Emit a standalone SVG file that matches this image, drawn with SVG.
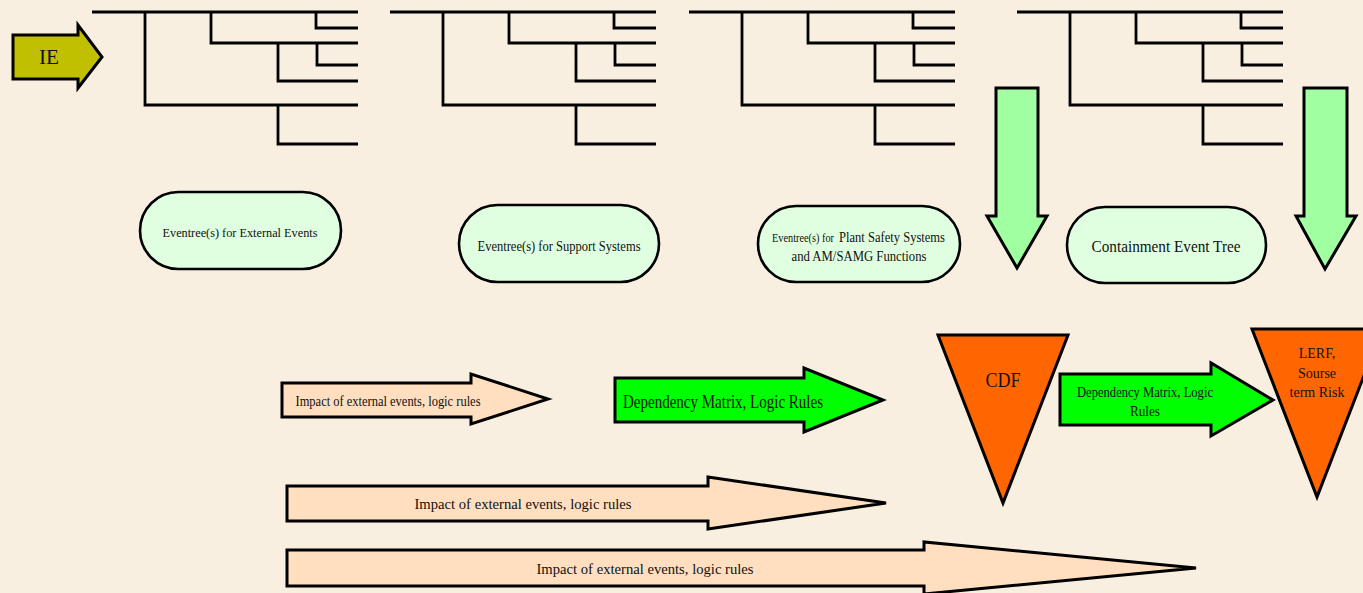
<svg xmlns="http://www.w3.org/2000/svg" width="1363" height="593" viewBox="0 0 1363 593">
<style>
.bg{fill:#F9EFE0}
.tree{fill:none;stroke:#000;stroke-width:2.8}
.shape{stroke:#000;stroke-width:3;stroke-linejoin:miter}
.oval{fill:#E0FFE0;stroke:#000;stroke-width:2.6}
.peach{fill:#FFDFBF}
.lgreen{fill:#A0FFA0}
.green{fill:#00FF00}
.orange{fill:#FF6600}
.olive{fill:#C0C000}
text{font-family:"Liberation Serif","Times New Roman",serif;fill:#111;text-anchor:middle}
</style>
<defs>
<path id="tree" d="M92,12 H358 M145,12 V105 H358 M211,12 V43 H358 M316,12 V28 H358 M317,43 V65 H358 M278,43 V81 H358 M278,105 V144 H358"/>
</defs>
<rect class="bg" x="0" y="0" width="1363" height="593"/>

<g id="trees">
<use href="#tree" class="tree"/>
<use href="#tree" class="tree" transform="translate(298,0)"/>
<use href="#tree" class="tree" transform="translate(597,0)"/>
<use href="#tree" class="tree" transform="translate(925,0)"/>
</g>

<g id="connectors">
<g id="arrow-ie">
<polygon class="shape olive" points="13,35 78,35 78,25 102,57 78,88 78,79 13,79"/>
<text x="49" y="64" font-size="20" textLength="20" lengthAdjust="spacingAndGlyphs">IE</text>
</g>
<g id="arrow-down-1"><polygon class="shape lgreen" points="996,88 1038,88 1038,216 1047,216 1017,268 987,216 996,216"/></g>
<g id="arrow-down-2"><polygon class="shape lgreen" points="1304,88 1347,88 1347,216 1356,216 1325,269 1296,216 1304,216"/></g>
<g id="arrow-impact-1">
<polygon class="shape peach" points="282,383 471,383 471,374 548,399 471,424 471,417 282,417"/>
<text x="388" y="406" font-size="14" textLength="185" lengthAdjust="spacingAndGlyphs">Impact of external events, logic rules</text>
</g>
<g id="arrow-dep-1">
<polygon class="shape green" points="615,378 804,378 804,368 883,400 804,432 804,422 615,422"/>
<text x="723" y="408" font-size="19" textLength="200" lengthAdjust="spacingAndGlyphs">Dependency Matrix, Logic Rules</text>
</g>
<g id="arrow-impact-2">
<polygon class="shape peach" points="287,486 708,486 708,477 886,503 708,529 708,521 287,521"/>
<text x="523" y="509" font-size="15" textLength="217" lengthAdjust="spacingAndGlyphs">Impact of external events, logic rules</text>
</g>
<g id="arrow-impact-3">
<polygon class="shape peach" points="287,550 924,550 924,542 1196,568 924,594 924,586 287,586"/>
<text x="645" y="574" font-size="15" textLength="217" lengthAdjust="spacingAndGlyphs">Impact of external events, logic rules</text>
</g>
<g id="arrow-dep-2">
<polygon class="shape green" points="1060,374 1211,374 1211,363 1273,400 1211,436 1211,425 1060,425"/>
<text x="1145" y="397" font-size="14" textLength="136" lengthAdjust="spacingAndGlyphs">Dependency Matrix, Logic</text>
<text x="1145" y="416" font-size="14" textLength="30" lengthAdjust="spacingAndGlyphs">Rules</text>
</g>
</g>

<g id="node-ext">
<rect class="oval" x="140" y="192" width="201" height="77" rx="38.5"/>
<text x="240" y="237" font-size="13.5" textLength="155" lengthAdjust="spacingAndGlyphs">Eventree(s) for External Events</text>
</g>
<g id="node-support">
<rect class="oval" x="459" y="205" width="200" height="77" rx="38.5"/>
<text x="559" y="251" font-size="14" textLength="163" lengthAdjust="spacingAndGlyphs">Eventree(s) for Support Systems</text>
</g>
<g id="node-plant">
<rect class="oval" x="758" y="206" width="202" height="76" rx="38"/>
<text x="803" y="242" font-size="12" textLength="62" lengthAdjust="spacingAndGlyphs">Eventree(s) for</text>
<text x="892" y="242" font-size="15" textLength="106" lengthAdjust="spacingAndGlyphs">Plant Safety Systems</text>
<text x="859" y="261" font-size="15" textLength="135" lengthAdjust="spacingAndGlyphs">and AM/SAMG Functions</text>
</g>
<g id="node-containment">
<rect class="oval" x="1067" y="207" width="199" height="76" rx="38"/>
<text x="1166" y="252" font-size="17.5" textLength="149" lengthAdjust="spacingAndGlyphs">Containment Event Tree</text>
</g>
<g id="node-cdf">
<polygon class="shape orange" points="938,335 1068,335 1003,503"/>
<text x="1003" y="387" font-size="20" textLength="35" lengthAdjust="spacingAndGlyphs">CDF</text>
</g>
<g id="node-lerf">
<polygon class="shape orange" points="1252,329 1382,329 1317,497"/>
<text x="1317" y="358" font-size="14">LERF,</text>
<text x="1317" y="378" font-size="14">Sourse</text>
<text x="1317" y="397" font-size="14">term Risk</text>
</g>
</svg>
